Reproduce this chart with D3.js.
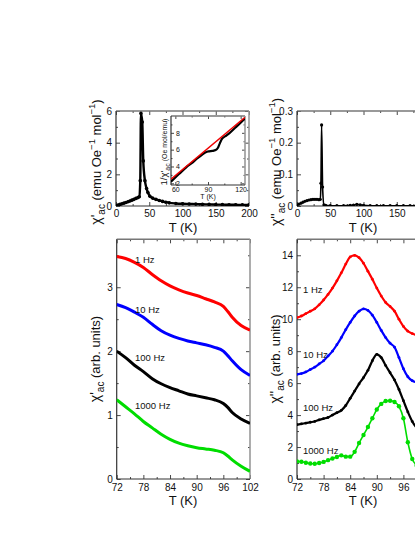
<!DOCTYPE html>
<html><head><meta charset="utf-8">
<script src="https://cdn.jsdelivr.net/npm/d3@7"></script>
<style>body{margin:0;background:#fff}svg{display:block}text{font-family:"Liberation Sans",Arial,sans-serif;fill:#111}</style>
</head><body><svg id="c" width="415" height="537"></svg>
<script>
// ---------- DATA ----------
// Top-left: chi' (emu Oe^-1 mol^-1) vs T (K)
const tlT   = [0,3,6,9,12,15,18,21,24,27,30,33,35,36.5,37.5,39.5,41,43.5,46,48,51,55,60,65,70,75,80,90,100,110,120,130,140,150,160,170,180,190,200];
const tlChi = [0.03,0.06,0.1,0.14,0.18,0.22,0.27,0.32,0.37,0.42,0.48,0.53,0.58,1.6,5.85,5.3,2.85,1.6,1.1,0.85,0.62,0.5,0.42,0.35,0.29,0.24,0.2,0.16,0.14,0.13,0.12,0.11,0.1,0.09,0.085,0.08,0.075,0.07,0.07];
// Inset: 1/chi' (Oe mol/emu) vs T and linear fit
const inT   = [56,60,65,70,75,80,85,88,91,94,97,99,101,103,106,110,115,120,124];
const inInv = [2.2,2.7,3.3,3.9,4.4,4.95,5.45,5.7,5.8,5.85,5.95,6.2,6.8,7.3,7.6,8.0,8.6,9.2,9.7];
const fitT  = [56,124];
const fitInv= [2.5,9.85];
// Top-right: chi'' (emu Oe^-1 mol^-1) vs T (K)
const trT   = [0,3,6,9,12,15,18,21,24,27,30,33,35,36,37,38.5,40.5,43,50,60,70,80,85,90,95,100,110,120,130,140,150,160,170,180,190,200];
const trChi = [0.003,0.006,0.009,0.012,0.015,0.017,0.019,0.02,0.021,0.021,0.021,0.02,0.021,0.072,0.256,0.06,0.004,0.002,0.001,0.001,0.001,0.002,0.003,0.005,0.004,0.002,0.001,0.001,0.001,0.001,0.001,0.001,0.001,0.001,0.001,0.001];
// Bottom-left: chi' (arb. units) vs T for frequencies
const freqs = ["1 Hz","10 Hz","100 Hz","1000 Hz"];
const blT = [72,74,76,78,80,82,84,86,88,90,92,94,96,97,98,100,102];
const bl1    = [3.48,3.45,3.39,3.31,3.2,3.1,3.02,2.96,2.91,2.87,2.82,2.77,2.7,2.62,2.53,2.4,2.33];
const bl10   = [2.73,2.68,2.61,2.53,2.42,2.32,2.25,2.2,2.16,2.13,2.1,2.06,2.0,1.93,1.85,1.71,1.62];
const bl100  = [2.0,1.9,1.78,1.68,1.57,1.49,1.43,1.38,1.33,1.3,1.27,1.24,1.18,1.12,1.04,0.94,0.87];
const bl1000 = [1.24,1.13,1.02,0.9,0.8,0.7,0.62,0.56,0.52,0.49,0.47,0.45,0.41,0.36,0.3,0.2,0.12];
// Bottom-right: chi'' (arb. units) vs T for frequencies
const brT = [72,73,74,75,76,77,78,79,80,81,82,83,84,85,86,87,88,89,90,91,92,93,94,95,96,97,98,99,100];
const br1    = [10.1,10.2,10.35,10.5,10.65,10.9,11.2,11.55,11.95,12.4,12.9,13.45,13.9,14.0,13.85,13.5,13.0,12.5,11.95,11.45,11.05,10.8,10.5,10.0,9.55,9.25,9.1,9.0,8.9];
const br10   = [6.55,6.6,6.7,6.85,7.0,7.2,7.4,7.7,8.0,8.4,8.85,9.35,9.8,10.2,10.5,10.65,10.55,10.25,9.8,9.3,8.85,8.5,8.25,7.6,6.9,6.4,6.15,6.05,6.0];
const br100  = [3.4,3.45,3.5,3.55,3.6,3.7,3.78,3.85,4.0,4.15,4.3,4.6,5.05,5.5,5.95,6.35,6.8,7.4,7.8,7.6,7.1,6.65,6.2,5.6,4.9,4.2,3.6,3.2,3.0];
const br1000 = [1.1,1.08,1.02,0.97,0.95,1.0,1.07,1.18,1.28,1.38,1.48,1.4,1.4,1.7,2.25,2.75,3.25,3.8,4.35,4.7,4.88,4.9,4.82,4.55,3.8,2.3,1.25,0.85,0.7];
const colors = ["#ff0000","#0000ff","#000000","#00dd00"];

// ---------- DRAW ----------
const W = 415;
const svg = d3.select("#c");

function panel(o){
  const g = svg.append("g");
  const x = d3.scaleLinear().domain(o.xd).range(o.xr);
  const y = d3.scaleLinear().domain(o.yd).range(o.yr);
  const fs = o.fs || 10, maj = o.maj || 4, mn = o.mn || 2;
  const [x0,x1] = o.xr, [y0,y1] = o.yr; // y0 bottom, y1 top
  if(o.bg) g.append("rect").attr("x",x0).attr("y",y1).attr("width",x1-x0).attr("height",y0-y1).attr("fill","#fff");
  function ax(gen, tr, vals, size, fmt, lab, pad){
    const a = gen.tickValues(vals).tickSize(-size).tickSizeOuter(0).tickPadding(pad);
    a.tickFormat(lab ? (fmt||(d=>d)) : "");
    const s = g.append("g").attr("transform", tr).call(a);
    s.select(".domain").remove();
    s.selectAll("line").attr("stroke","#333").attr("stroke-width",0.9);
    s.selectAll("text").attr("font-size",fs).attr("fill","#222").style("font-family",'"Liberation Sans",Arial,sans-serif');
    return s;
  }
  const xs = ax(d3.axisBottom(x), `translate(0,${y0})`, o.xt, maj, o.xf, true, o.xpad||5);
  // hide labels that fall entirely beyond the window (as in the cropped reference)
  xs.selectAll(".tick").filter(d=>x(d) > W+4).select("text").remove();
  ax(d3.axisBottom(x), `translate(0,${y0})`, o.xm, mn, null, false, 3);
  ax(d3.axisTop(x), `translate(0,${y1})`, o.xt, maj, null, false, 3);
  ax(d3.axisTop(x), `translate(0,${y1})`, o.xm, mn, null, false, 3);
  const ys = ax(d3.axisLeft(y), `translate(${x0},0)`, o.yt, maj, o.yf, true, o.ypad||4);
  if(o.yin){ ys.selectAll("text").attr("text-anchor","start").attr("x",o.yin); }
  ax(d3.axisLeft(y), `translate(${x0},0)`, o.ym, mn, null, false, 3);
  ax(d3.axisRight(y), `translate(${x1},0)`, o.yt, maj, null, false, 3);
  ax(d3.axisRight(y), `translate(${x1},0)`, o.ym, mn, null, false, 3);
  // frame
  g.append("line").attr("x1",x0).attr("x2",x1).attr("y1",y1).attr("y2",y1).attr("stroke","#777").attr("stroke-width",1.4);
  g.append("line").attr("x1",x1).attr("x2",x1).attr("y1",y0).attr("y2",y1).attr("stroke","#999").attr("stroke-width",1.6);
  g.append("line").attr("x1",x0).attr("x2",x1).attr("y1",y0).attr("y2",y0).attr("stroke","#333").attr("stroke-width",1.2);
  g.append("line").attr("x1",x0).attr("x2",x0).attr("y1",y0).attr("y2",y1).attr("stroke","#333").attr("stroke-width",1.2);
  const clipId = "clip"+Math.random().toString(36).slice(2);
  svg.append("clipPath").attr("id",clipId).append("rect").attr("x",x0).attr("y",y1).attr("width",x1-x0).attr("height",y0-y1);
  const plot = g.append("g").attr("clip-path",`url(#${clipId})`);
  return {x,y,g,plot};
}

function series(p, xs, ys, color, lw, r){
  const pts = xs.map((t,i)=>[t,ys[i]]);
  p.plot.append("path").datum(pts).attr("fill","none").attr("stroke",color).attr("stroke-width",lw)
    .attr("stroke-linejoin","round")
    .attr("d", d3.line().x(d=>p.x(d[0])).y(d=>p.y(d[1])).curve(d3.curveMonotoneX));
  if(r>0){
    p.plot.selectAll(null).data(pts).enter().append("circle")
      .attr("cx",d=>p.x(d[0])).attr("cy",d=>p.y(d[1])).attr("r",r).attr("fill",color);
  }
}

// parts: {t, fs, off}  off = baseline offset (positive = down/sub, negative = up/sup)
function ylabel(x, y, parts){
  const t = svg.append("text").attr("transform",`translate(${x},${y}) rotate(-90)`).attr("text-anchor","middle");
  let cur = 0;
  parts.forEach(pt=>{
    const off = pt.off||0;
    t.append("tspan").text(pt.t).attr("font-size",pt.fs).attr("dy",off-cur);
    cur = off;
  });
  return t;
}
function xlabel(x,y,txt,size){
  svg.append("text").attr("x",x).attr("y",y).attr("text-anchor","middle").attr("font-size",size).text(txt);
}

// Top-left
const TL = panel({xd:[0,200],xr:[116,249],yd:[0,6],yr:[206,111],xpad:4,
  xt:[0,50,100,150,200],xm:[25,75,125,175],yt:[0,2,4,6],ym:[1,3,5]});
series(TL, tlT, tlChi, "#000", 2.4, 1.8);
// Inset
const IN = panel({xd:[56,124],xr:[171,245],yd:[1.8,10],yr:[185,116],bg:true,
  xt:[60,90,120],xm:[75,105],yt:[2,4,6,8],ym:[3,5,7,9],fs:7,maj:3,mn:1.5,xpad:2.5,yin:5});
series(IN, inT, inInv, "#000", 2.2, 0);
series(IN, fitT, fitInv, "#ee0000", 1.4, 0);
xlabel(208,199,"T (K)",7);
ylabel(167,152,[{t:"1/χ'",fs:9.5},{t:"ac",fs:7,off:2.5},{t:" (Oe mol/emu)",fs:7,off:0}]);
// Top-right
const TR = panel({xd:[0,200],xr:[297,430],yd:[0,0.3],yr:[206,111],xpad:4,
  xt:[0,50,100,150,200],xm:[25,75,125,175],yt:[0,0.1,0.2,0.3],ym:[0.05,0.15,0.25],yf:d=>d===0?"0":d3.format(".1f")(d)});
series(TR, trT, trChi, "#000", 1.6, 1.6);
// Bottom-left
const BL = panel({xd:[72,102],xr:[116.7,250],yd:[0,3.75],yr:[479,239.3],
  xt:[72,78,84,90,96,102],xm:[75,81,87,93,99],yt:[0,1,2,3],ym:[0.5,1.5,2.5,3.5]});
[bl1,bl10,bl100,bl1000].forEach((s,i)=>series(BL, blT, s, colors[i], 3, 0));
// Bottom-right
const BR = panel({xd:[72,102],xr:[297,430],yd:[0,15],yr:[479,239.3],
  xt:[72,78,84,90,96,102],xm:[75,81,87,93,99],yt:[0,2,4,6,8,10,12,14],ym:[1,3,5,7,9,11,13]});
[br1,br10,br100].forEach((s,i)=>series(BR, brT, s, colors[i], 2.2, 1.4));
series(BR, brT, br1000, colors[3], 1.6, 2.2);

// Frequency labels
const blLabY = [263,313,361,409], brLabY = [293,358,410.5,454];
freqs.forEach((f,i)=>{
  svg.append("text").attr("x",135).attr("y",blLabY[i]).attr("font-size",9.5).text(f);
  svg.append("text").attr("x",303).attr("y",brLabY[i]).attr("font-size",9.5).text(f);
});

// Axis titles
xlabel(183,231.5,"T (K)",13); xlabel(363,231.5,"T (K)",13);
xlabel(183,505,"T (K)",13); xlabel(363,505,"T (K)",13);
ylabel(101,162,[{t:"χ'",fs:14},{t:"ac",fs:10,off:4},{t:" (emu Oe",fs:13,off:0},{t:"−1",fs:9.5,off:-6},{t:" mol",fs:13,off:0},{t:"−1",fs:9.5,off:-6},{t:")",fs:13,off:0}]);
ylabel(281,162,[{t:"χ''",fs:14},{t:"ac",fs:10,off:4},{t:" (emu Oe",fs:13,off:0},{t:"−1",fs:9.5,off:-6},{t:" mol",fs:13,off:0},{t:"−1",fs:9.5,off:-6},{t:")",fs:13,off:0}]);
ylabel(100,359,[{t:"χ'",fs:14},{t:"ac",fs:10,off:4},{t:" (arb. units)",fs:13,off:0}]);
ylabel(280,359,[{t:"χ''",fs:14},{t:"ac",fs:10,off:4},{t:" (arb. units)",fs:13,off:0}]);
</script></body></html>
